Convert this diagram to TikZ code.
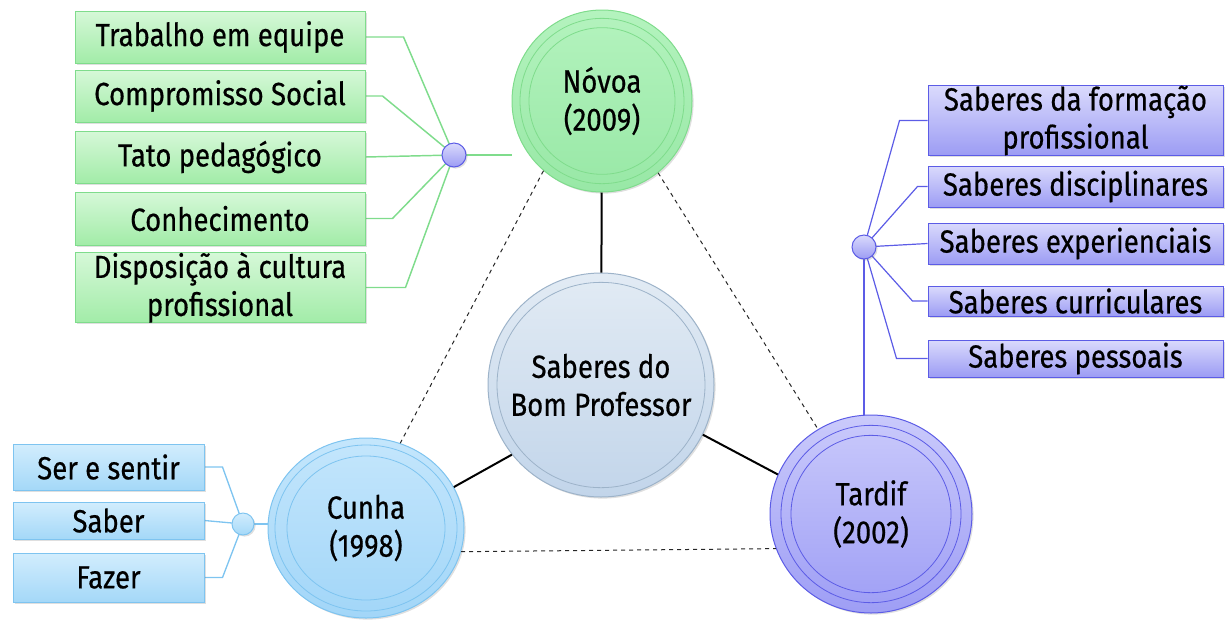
\documentclass[tikz,border=0pt]{standalone}
\usepackage{fontspec}
\setmainfont{Fira Sans}[FakeStretch=0.86,FakeBold=0.5]
\usepackage{xcolor}
\usetikzlibrary{shapes.geometric,shadows,backgrounds}
\definecolor{verdeBorda}{HTML}{7FDC8C}
\definecolor{verdeTopo}{HTML}{D6F8D8}
\definecolor{verdeBase}{HTML}{A2ECA8}
\definecolor{verdeCirc}{HTML}{B4F3BE}
\definecolor{verdeCircB}{HTML}{98E8A6}
\definecolor{azulBorda}{HTML}{7EC4F0}
\definecolor{azulTopo}{HTML}{D2EDFD}
\definecolor{azulBase}{HTML}{A4D8F8}
\definecolor{azulCirc}{HTML}{C4E6FC}
\definecolor{azulCircB}{HTML}{A2D6F8}
\definecolor{roxoBorda}{HTML}{5C5CE6}
\definecolor{roxoTopo}{HTML}{DADAFC}
\definecolor{roxoBase}{HTML}{9C9CF4}
\definecolor{roxoCirc}{HTML}{CACAFB}
\definecolor{roxoCircB}{HTML}{9E9EF5}
\definecolor{cinzaBorda}{HTML}{9DB3C9}
\definecolor{cinzaTopo}{HTML}{E2EBF4}
\definecolor{cinzaBase}{HTML}{C2D5EA}

\begin{document}
\begin{tikzpicture}[x=0.75pt,y=-0.75pt,
  font=\fontsize{24}{28.5}\selectfont,
  sombra/.style={drop shadow={opacity=0.25,shadow xshift=1.2pt,shadow yshift=-1.2pt}},
  caixa/.style={rectangle, draw, line width=0.75pt, inner sep=0pt, align=center, sombra},
  caixaV/.style={caixa, draw=verdeBorda, top color=verdeTopo, bottom color=verdeBase, minimum width=217.5pt},
  caixaA/.style={caixa, draw=azulBorda, top color=azulTopo, bottom color=azulBase, minimum width=143.25pt},
  caixaR/.style={caixa, draw=roxoBorda, top color=roxoTopo, bottom color=roxoBase, minimum width=221.25pt},
  autor/.style={ellipse, draw, line width=0.75pt, inner sep=-20pt, align=center, sombra},
  anel/.style={line width=0.6pt},
  juncao/.style={circle, line width=0.75pt, inner sep=0pt, minimum size=18pt, sombra},
  juncaoR/.style={juncao, draw=roxoBorda, top color=roxoTopo, bottom color=roxoBase},
  juncaoA/.style={juncao, draw=azulBorda, top color=azulTopo, bottom color=azulBase, minimum size=16.5pt},
  ligacao/.style={line width=1.5pt, black},
  tracejada/.style={dashed, line width=0.75pt, black!85}]
\useasboundingbox (0,0) rectangle (1225,619);

% circulos dos autores
\node[autor, draw=cinzaBorda, top color=cinzaTopo, bottom color=cinzaBase,
  minimum width=169.5pt, minimum height=168pt] (centro) at (601,385) {Saberes do\\Bom Professor};
\draw[anel, cinzaBorda] (centro.center) ellipse [x radius=78pt, y radius=77pt];

\node[autor, draw=verdeBorda, top color=verdeCirc, bottom color=verdeCircB,
  minimum width=135pt, minimum height=136.5pt] (novoa) at (602,101) {Nóvoa\\(2009)};
\draw[anel, verdeBorda] (novoa.center) ellipse [x radius=61.5pt, y radius=62pt];
\draw[anel, verdeBorda] (novoa.center) ellipse [x radius=54.75pt, y radius=55pt];

\node[autor, draw=azulBorda, top color=azulCirc, bottom color=azulCircB,
  minimum width=147pt, minimum height=135pt] (cunha) at (366,528) {Cunha\\(1998)};
\draw[anel, azulBorda] (cunha.center) ellipse [x radius=68.25pt, y radius=62.25pt];
\draw[anel, azulBorda] (cunha.center) ellipse [x radius=59.25pt, y radius=54pt];

\node[autor, draw=roxoBorda, top color=roxoCirc, bottom color=roxoCircB,
  minimum width=151.5pt, minimum height=148.5pt] (tardif) at (871,514) {Tardif\\(2002)};
\draw[anel, roxoBorda] (tardif.center) ellipse [x radius=67.5pt, y radius=66.5pt];
\draw[anel, roxoBorda] (tardif.center) ellipse [x radius=60pt, y radius=59pt];

% Novoa
\node[caixaV, minimum height=39pt] (v1) at (220,37) {Trabalho em equipe};
\node[caixaV, minimum height=39pt] (v2) at (220,96) {Compromisso Social};
\node[caixaV, minimum height=39pt] (v3) at (220,157) {Tato pedagógico};
\node[caixaV, minimum height=39.75pt] (v4) at (220,218.5) {Conhecimento};
\node[caixaV, minimum height=51.75pt] (v5) at (220,287.5) {Disposição à cultura\\profissional};
\node[juncaoR] (jN) at (454,155) {};

% Tardif
\node[caixaR, minimum height=51.75pt] (r1) at (1075.5,120.5) {Saberes da formação\\profissional};
\node[caixaR, minimum height=30.75pt] (r2) at (1075.5,186.5) {Saberes disciplinares};
\node[caixaR, minimum height=30.75pt] (r3) at (1075.5,243.5) {Saberes experienciais};
\node[caixaR, minimum height=22.5pt] (r4) at (1075.5,301) {Saberes curriculares};
\node[caixaR, minimum height=27.75pt] (r5) at (1075.5,358.5) {Saberes pessoais};
\node[juncaoR] (jT) at (864,247) {};

% Cunha
\node[caixaA, minimum height=34.5pt] (a1) at (108.5,467) {Ser e sentir};
\node[caixaA, minimum height=27.75pt] (a2) at (108.5,520.5) {Saber};
\node[caixaA, minimum height=36.75pt] (a3) at (108.5,577.5) {Fazer};
\node[juncaoA] (jC) at (243,524) {};

\begin{scope}[on background layer]
\draw[verdeBorda, line width=1.1pt] (v1.east) -- ++(38,0) -- (jN.center);
\draw[verdeBorda, line width=1.1pt] (v2.east) -- ++(17,0) -- (jN.center);
\draw[verdeBorda, line width=1.1pt] (v3.east) -- (jN.center);
\draw[verdeBorda, line width=1.1pt] (v4.east) -- ++(27,0) -- (jN.center);
\draw[verdeBorda, line width=1.1pt] (v5.east) -- ++(40,0) -- (jN.center);
\draw[verdeBorda, line width=1.1pt] (jN.center) -- (jN -| novoa.west);

\draw[roxoBorda, line width=0.9pt] (r1.west) -- ++(-28,0) -- (jT.center);
\draw[roxoBorda, line width=0.9pt] (r2.west) -- ++(-10,0) -- (jT.center);
\draw[roxoBorda, line width=0.9pt] (r3.west) -- (jT.center);
\draw[roxoBorda, line width=0.9pt] (r4.west) -- ++(-15,0) -- (jT.center);
\draw[roxoBorda, line width=0.9pt] (r5.west) -- ++(-31,0) -- (jT.center);
\draw[roxoBorda, line width=0.9pt] (jT.center) -- (jT |- tardif.center);

\draw[azulBorda, line width=1pt] (a1.east) -- ++(18,0) -- (jC.center);
\draw[azulBorda, line width=1pt] (a2.east) -- (jC.center);
\draw[azulBorda, line width=1pt] (a3.east) -- ++(18,0) -- (jC.center);
\draw[azulBorda, line width=1pt] (jC.center) -- (jC -| cunha.west);
\end{scope}

% ligacoes entre autores
\draw[ligacao] (centro) -- (novoa);
\draw[ligacao] (centro.218) -- (cunha.25);
\draw[ligacao] (centro.334) -- (tardif.157);
\draw[tracejada] (novoa.230) -- (cunha.68);
\draw[tracejada] (novoa.308) -- (tardif.122);
\draw[tracejada] (cunha.346) -- (tardif.200);
\end{tikzpicture}
\end{document}
